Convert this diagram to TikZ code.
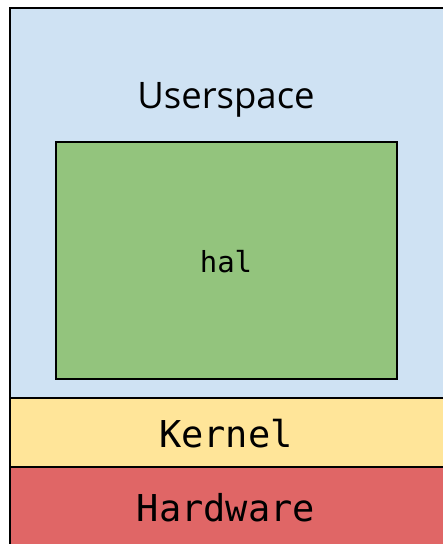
\documentclass[tikz,border=0pt]{standalone}
\usepackage{fontspec}
\setmainfont{Open Sans}
\newfontfamily\codefont{DejaVu Sans Mono}
\definecolor{userblue}{HTML}{CFE2F3}
\definecolor{halgreen}{HTML}{93C47D}
\definecolor{kernyellow}{HTML}{FFE599}
\definecolor{hwred}{HTML}{E06666}
\begin{document}
\begin{tikzpicture}[x=1pt,y=-1pt,
  layer/.style={draw=black,line width=2pt},
  label/.style={inner sep=0pt,anchor=base}]
\useasboundingbox (0,0) rectangle (443,544);
\begin{scope}
\clip (0,0) rectangle (443,544);
% stacked layers
\draw[layer,fill=hwred] (10,467) rectangle (446,548);
\draw[layer,fill=kernyellow] (10,398) rectangle (446,467);
\draw[layer,fill=userblue] (10,8) rectangle (446,398);
% hal block inside userspace
\draw[draw=black,line width=1.5pt,fill=halgreen] (56,142) rectangle (397,379);
\end{scope}
\node[label,font=\fontsize{36.5}{40}\selectfont] (user) at (226,108) {Userspace};
\node[label,font=\codefont\fontsize{29}{32}\selectfont] (hal) at (226,272) {hal};
\node[label,font=\codefont\fontsize{37}{42}\selectfont] (kernel) at (226,447) {Kernel};
\node[label,font=\codefont\fontsize{37}{42}\selectfont] (hw) at (226,521) {Hardware};
\end{tikzpicture}
\end{document}
